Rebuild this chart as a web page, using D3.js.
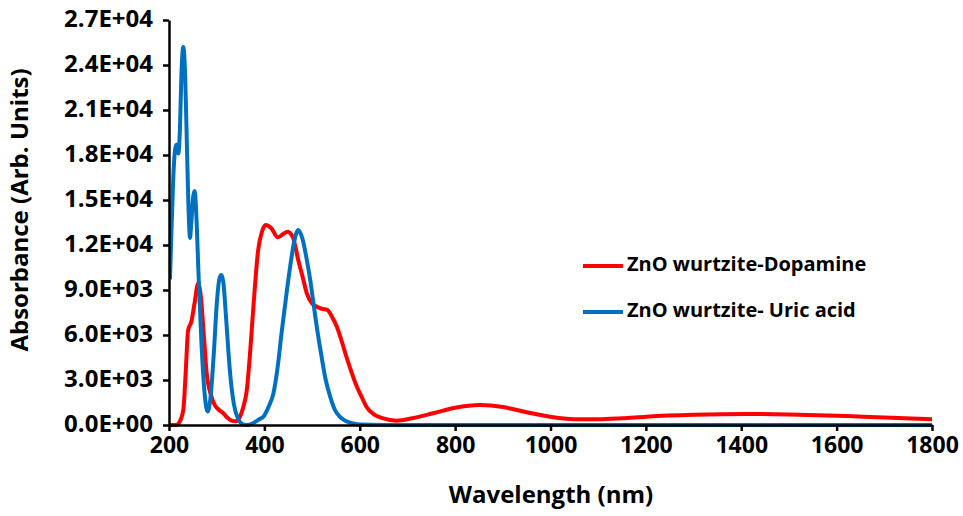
<!DOCTYPE html>
<html>
<head>
<meta charset="utf-8">
<script src="https://cdn.jsdelivr.net/npm/d3@7"></script>
<style>
  html, body { margin: 0; padding: 0; background: #fff; }
  svg text { font-family: "Open Sans", "Liberation Sans", sans-serif; font-weight: 700; fill: #000; }
</style>
</head>
<body>
<svg id="chart" width="963" height="516"></svg>
<script>
// ---- data ----
const xTicks = [200, 400, 600, 800, 1000, 1200, 1400, 1600, 1800];
const yTicks = [0, 3000, 6000, 9000, 12000, 15000, 18000, 21000, 24000, 27000];
const yTickLabels = ["0.0E+00","3.0E+03","6.0E+03","9.0E+03","1.2E+04","1.5E+04","1.8E+04","2.1E+04","2.4E+04","2.7E+04"];
const seriesNames = ["ZnO wurtzite-Dopamine", "ZnO wurtzite- Uric acid"];
const seriesColors = ["#ff0000", "#0070c0"];

const dopamineWl = [200,215,222,230,235,240,247,254,261,267,273,279,288,296,305,314,322,331,340,348,356,363,370,377,387,395,403,415,428,438,449,460,471,480,489,500,510,520,532,542,552,562,572,583,594,605,614,630,649,677,710,754,800,852,900,929,960,999,1062,1100,1150,1201,1300,1411,1500,1621,1700,1800];
const dopamineAbs = [0,0,200,1000,3500,6300,6900,8200,9440,8500,6000,3460,2000,1330,1000,780,500,290,250,500,1220,2300,4800,7890,11670,12900,13330,13100,12510,12700,12890,12500,11000,9900,8780,8100,7890,7750,7670,7200,6550,5600,4550,3500,2550,1800,1220,700,440,290,450,780,1150,1330,1200,1000,780,555,380,380,450,555,680,733,700,600,500,380];

const uricWl = [202,205,209,213,216,219.6,223,226,230,234,238,242,244,247,251,254,257,262,268,275,281,287,294,300,306,310,314,320,328,336,345,355,363,375,390,398,410,419,428,436,445,454,463,471,480,489,496,503,512,520,528,538,548,558,572,586,600,650,800,1800];
const uricAbs = [9700,12800,16500,18400,18700,18100,19800,23300,25200,23200,18000,13500,12470,13600,15300,15600,14200,10000,5500,2000,900,1800,4800,8000,9800,10000,9500,7000,3500,1400,400,50,0,100,400,560,1300,2110,3900,6110,8400,10550,12300,13000,12400,11000,9700,8100,6100,4550,3100,1890,1000,555,250,100,30,0,0,0];

// ---- layout ----
const svg = d3.select("#chart");
const margin = { left: 169, right: 31, top: 20, bottom: 91 };
const W = 963, H = 516;
const x = d3.scaleLinear().domain([200, 1800]).range([margin.left, W - margin.right]);
const y = d3.scaleLinear().domain([0, 27000]).range([H - margin.bottom, margin.top]);

// lines
const line = d3.line().x(d => x(d[0])).y(d => y(d[1])).curve(d3.curveMonotoneX);
const series = [
  dopamineWl.map((w, i) => [w, dopamineAbs[i]]),
  uricWl.map((w, i) => [w, uricAbs[i]])
];
svg.append("clipPath").attr("id", "clip").append("rect")
  .attr("x", margin.left).attr("y", 0).attr("width", W - margin.right - margin.left + 2).attr("height", H - margin.bottom + 2);
svg.append("g").attr("clip-path", "url(#clip)").selectAll("path.series")
  .data(series).join("path")
  .attr("class", "series")
  .attr("fill", "none")
  .attr("stroke", (d, i) => seriesColors[i])
  .attr("stroke-width", 4)
  .attr("stroke-linejoin", "round")
  .attr("d", line);

// axes
const xAxis = svg.append("g").attr("transform", `translate(0,${y(0)})`)
  .call(d3.axisBottom(x).tickValues(xTicks).tickSize(6).tickSizeOuter(0).tickFormat(d3.format("d")));
xAxis.select(".domain").attr("stroke", "#000").attr("stroke-width", 2.5);
xAxis.selectAll(".tick line").attr("stroke", "#000").attr("stroke-width", 2.5);
xAxis.selectAll(".tick text").attr("dy", "0").attr("y", 22).attr("dominant-baseline", "middle")
  .style("font-size", "23px").style("font-family", "'Open Sans', sans-serif").style("font-weight", 700);

const yAxis = svg.append("g").attr("transform", `translate(${x(200)},0)`)
  .call(d3.axisLeft(y).tickValues(yTicks).tickSize(6).tickSizeOuter(0).tickFormat((d, i) => yTickLabels[i]));
yAxis.select(".domain").attr("stroke", "#000").attr("stroke-width", 2.5);
yAxis.selectAll(".tick text").attr("x", -16).attr("dy", "0").attr("dominant-baseline", "middle")
  .style("font-size", "24px").style("font-family", "'Open Sans', sans-serif").style("font-weight", 700);
yAxis.selectAll(".tick line").attr("stroke", "#000").attr("stroke-width", 2.5);

// axis titles
svg.append("text").attr("x", 551).attr("y", 497).attr("text-anchor", "middle")
  .attr("dominant-baseline", "middle").style("font-size", "24px").text("Wavelength (nm)");
svg.append("text").attr("transform", "translate(22,210) rotate(-90)").attr("text-anchor", "middle")
  .attr("dominant-baseline", "middle").style("font-size", "24px").text("Absorbance (Arb. Units)");

// legend
const legend = svg.append("g");
const legY = [266, 312];
seriesNames.forEach((name, i) => {
  legend.append("line").attr("x1", 583).attr("x2", 623).attr("y1", legY[i]).attr("y2", legY[i])
    .attr("stroke", seriesColors[i]).attr("stroke-width", 4);
  legend.append("text").attr("x", 627).attr("y", legY[i]).attr("dominant-baseline", "middle")
    .style("font-size", "20px").text(name);
});
</script>
</body>
</html>
